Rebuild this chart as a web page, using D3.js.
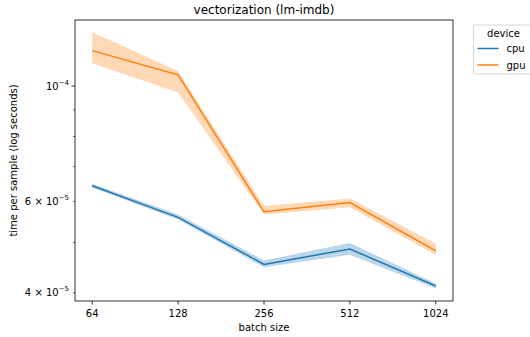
<!DOCTYPE html>
<html>
<head>
<meta charset="utf-8">
<script src="https://cdn.jsdelivr.net/npm/d3@7"></script>
<style>
  body { margin: 0; background: #fff; }
  svg { font-family: "DejaVu Sans", sans-serif; }
</style>
</head>
<body>
<div id="chart"></div>
<script>
// chart data
const batchSizes = [64, 128, 256, 512, 1024];
const devices = ["cpu", "gpu"];
const cpuMean = [6.43e-5, 5.59e-5, 4.54e-5, 4.86e-5, 4.125e-5];
const cpuLow  = [6.38e-5, 5.54e-5, 4.48e-5, 4.74e-5, 4.08e-5];
const cpuHigh = [6.49e-5, 5.66e-5, 4.62e-5, 4.99e-5, 4.17e-5];
const gpuMean = [1.17e-4, 1.051e-4, 5.73e-5, 5.97e-5, 4.82e-5];
const gpuLow  = [1.106e-4, 9.72e-5, 5.66e-5, 5.85e-5, 4.73e-5];
const gpuHigh = [1.269e-4, 1.069e-4, 5.88e-5, 6.08e-5, 4.98e-5];
const majorTicks = [1e-4];
const minorTicks = [4e-5, 5e-5, 6e-5, 7e-5, 8e-5, 9e-5];
const labeledMinor = [4e-5, 6e-5];

const width = 530, height = 337;
const margin = {top: 20, right: 77, bottom: 36, left: 75};
const plotW = width - margin.left - margin.right;
const plotH = height - margin.top - margin.bottom;

const colors = {cpu: "#1f77b4", gpu: "#ff7f0e"};

const series = [
  {name: "cpu", mean: cpuMean, low: cpuLow, high: cpuHigh},
  {name: "gpu", mean: gpuMean, low: gpuLow, high: gpuHigh}
];

let svg = d3.select("#chart").append("svg")
  .attr("width", width)
  .attr("height", height);

let g = svg.append("g")
  .attr("transform", `translate(${margin.left}, ${margin.top})`);

// x is log2 of batch size, with matplotlib-style 5% margins
let xLog = d3.scaleLinear()
  .domain([6 - 0.2, 10 + 0.2])
  .range([0, plotW]);
let x = function(b) { return xLog(Math.log2(b)); };

let y = d3.scaleLog()
  .domain([3.86e-5, 1.34e-4])
  .range([plotH, 0]);

// bands
let area = d3.area()
  .x(function(d) { return x(d.b); })
  .y0(function(d) { return y(d.lo); })
  .y1(function(d) { return y(d.hi); });

let line = d3.line()
  .x(function(d) { return x(d.b); })
  .y(function(d) { return y(d.m); });

series.forEach(function(s) {
  let pts = batchSizes.map(function(b, i) {
    return {b: b, m: s.mean[i], lo: s.low[i], hi: s.high[i]};
  });
  g.append("path")
    .datum(pts)
    .attr("d", area)
    .attr("fill", colors[s.name])
    .attr("fill-opacity", 0.3)
    .attr("stroke", "none");
  g.append("path")
    .datum(pts)
    .attr("d", line)
    .attr("fill", "none")
    .attr("stroke", colors[s.name])
    .attr("stroke-width", 1.5);
});

// x axis
let xAxis = g.append("g")
  .attr("transform", `translate(0, ${plotH})`);
batchSizes.forEach(function(b) {
  xAxis.append("line")
    .attr("x1", x(b)).attr("x2", x(b))
    .attr("y1", 0).attr("y2", 3.5)
    .attr("stroke", "#000").attr("stroke-width", 0.8);
  xAxis.append("text")
    .attr("x", x(b))
    .attr("y", 16)
    .attr("text-anchor", "middle")
    .style("font-size", "10px")
    .text(b);
});

// y axis ticks
let yAxis = g.append("g");
majorTicks.forEach(function(t) {
  yAxis.append("line")
    .attr("x1", -3.5).attr("x2", 0)
    .attr("y1", y(t)).attr("y2", y(t))
    .attr("stroke", "#000").attr("stroke-width", 0.8);
  let txt = yAxis.append("text")
    .attr("x", -6)
    .attr("y", y(t) + 3.5)
    .attr("text-anchor", "end")
    .style("font-size", "10px");
  txt.append("tspan").text("10");
  txt.append("tspan").attr("dy", -5).style("font-size", "7px").text("\u22124");
});
minorTicks.forEach(function(t) {
  yAxis.append("line")
    .attr("x1", -2).attr("x2", 0)
    .attr("y1", y(t)).attr("y2", y(t))
    .attr("stroke", "#000").attr("stroke-width", 0.6);
});
labeledMinor.forEach(function(t) {
  let m = Math.round(t / 1e-5);
  let txt = yAxis.append("text")
    .attr("x", -6)
    .attr("y", y(t) + 3.5)
    .attr("text-anchor", "end")
    .style("font-size", "10px");
  txt.append("tspan").text(`${m} \u00d7 10`);
  txt.append("tspan").attr("dy", -5).style("font-size", "7px").text("\u22125");
});

// frame
g.append("rect")
  .attr("width", plotW)
  .attr("height", plotH)
  .attr("fill", "none")
  .attr("stroke", "#000")
  .attr("stroke-width", 0.8);

// labels
svg.append("text")
  .attr("x", margin.left + plotW / 2)
  .attr("y", 14)
  .attr("text-anchor", "middle")
  .style("font-size", "12px")
  .text("vectorization (lm-imdb)");

svg.append("text")
  .attr("x", margin.left + plotW / 2)
  .attr("y", 331)
  .attr("text-anchor", "middle")
  .style("font-size", "10px")
  .text("batch size");

svg.append("text")
  .attr("transform", `translate(17, ${margin.top + plotH / 2}) rotate(-90)`)
  .attr("text-anchor", "middle")
  .style("font-size", "10px")
  .text("time per sample (log seconds)");

// legend
let legend = svg.append("g").attr("transform", "translate(473.5, 25)");
legend.append("rect")
  .attr("width", 62)
  .attr("height", 49)
  .attr("rx", 2)
  .attr("fill", "#fff")
  .attr("fill-opacity", 0.8)
  .attr("stroke", "#ccc")
  .attr("stroke-width", 0.8);
legend.append("text")
  .attr("x", 30)
  .attr("y", 12)
  .attr("text-anchor", "middle")
  .style("font-size", "10px")
  .text("device");
devices.forEach(function(d, i) {
  let yy = 23.5 + i * 16.5;
  legend.append("line")
    .attr("x1", 4).attr("x2", 25)
    .attr("y1", yy).attr("y2", yy)
    .attr("stroke", colors[d]).attr("stroke-width", 1.5);
  legend.append("text")
    .attr("x", 33)
    .attr("y", yy + 3.5)
    .style("font-size", "10px")
    .text(d);
});
</script>
</body>
</html>
